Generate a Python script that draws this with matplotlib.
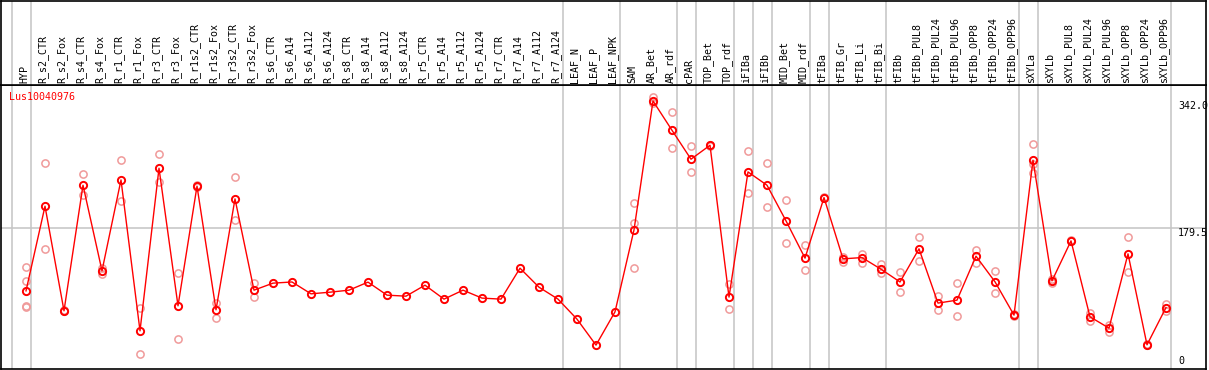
import matplotlib
matplotlib.use("Agg")
import matplotlib.pyplot as plt

# sample names, group means and replicate values
samples = ["HYP", "R_s2_CTR", "R_s2_Fox", "R_s4_CTR", "R_s4_Fox", "R_r1_CTR", "R_r1_Fox",
           "R_r3_CTR", "R_r3_Fox", "R_r1s2_CTR", "R_r1s2_Fox", "R_r3s2_CTR", "R_r3s2_Fox",
           "R_s6_CTR", "R_s6_A14", "R_s6_A112", "R_s6_A124", "R_s8_CTR", "R_s8_A14",
           "R_s8_A112", "R_s8_A124", "R_r5_CTR", "R_r5_A14", "R_r5_A112", "R_r5_A124",
           "R_r7_CTR", "R_r7_A14", "R_r7_A112", "R_r7_A124", "LEAF_N", "LEAF_P", "LEAF_NPK",
           "SAM", "AR_Bet", "AR_rdf", "cPAR", "TOP_Bet", "TOP_rdf", "iFIBa", "iFIBb",
           "MID_Bet", "MID_rdf", "tFIBa", "tFIB_Gr", "tFIB_Li", "tFIB_Bi", "tFIBb",
           "tFIBb_PUL8", "tFIBb_PUL24", "tFIBb_PUL96", "tFIBb_OPP8", "tFIBb_OPP24",
           "tFIBb_OPP96", "sXYLa", "sXYLb", "sXYLb_PUL8", "sXYLb_PUL24", "sXYLb_PUL96",
           "sXYLb_OPP8", "sXYLb_OPP24", "sXYLb_OPP96"]

means = [98.3, 206.9, 72.7, 233.8, 124.0, 240.6, 47.0, 255.6, 79.1, 232.6, 74.0, 216.3,
         99.2, 108.2, 109.7, 94.5, 96.6, 99.2, 109.5, 92.8, 91.5, 105.6, 87.7, 99.2, 89.0,
         87.7, 127.4, 103.0, 87.7, 62.0, 28.7, 71.4, 176.5, 341.9, 304.3, 267.2, 285.1,
         90.3, 250.9, 233.8, 188.1, 140.3, 218.0, 139.4, 141.0, 126.1, 109.7, 152.2, 82.6,
         86.4, 142.8, 109.9, 67.2, 265.9, 111.2, 162.4, 65.0, 50.5, 145.8, 29.1, 76.9]

replicates = [
    [128.7, 111.2, 78.2, 78.6], [262.4, 151.8], [72.0, 73.5], [248.3, 221.0],
    [127.4, 120.5], [266.3, 213.3], [76.1, 17.2], [273.6, 237.7], [121.4, 36.8],
    [233.5, 231.5], [82.6, 63.3], [244.1, 189.0], [108.6, 90.3],
    [], [], [], [], [], [], [], [], [], [], [], [], [], [], [], [], [], [], [],
    [211.2, 185.5, 127.4], [346.7, 339.0], [327.4, 281.3], [283.8, 250.5],
    [286.0, 284.0], [107.3, 74.9], [277.8, 223.6], [262.0, 205.6], [214.6, 159.5],
    [156.9, 124.9], [219.0, 217.0], [141.5, 135.1], [145.4, 133.8], [132.6, 121.0],
    [122.5, 96.9], [167.6, 136.4], [91.9, 73.6], [108.2, 65.9], [151.3, 133.8],
    [123.6, 95.8], [68.0, 66.4], [286.8, 261.0, 249.2], [108.2, 113.0], [163.0, 161.8],
    [70.1, 59.5], [55.1, 45.8], [167.6, 122.3], [29.5, 28.7], [81.3, 73.1],
]

# index of the last sample of each group (separator drawn just after it)
group_ends = [-1, 0, 28, 31, 34, 35, 37, 38, 39, 41, 42, 45, 52, 53, 60]

gene = "Lus10040976"
y_max, y_mid = 342.0, 179.5

RED = "#ff0000"
PINK = "#f09a9a"
GRID = "#c4c4c4"
FONT = "DejaVu Sans Mono"
FS = 7.2

W, H = 1209, 370
fig = plt.figure(figsize=(W / 100, H / 100), dpi=100)

x_lo, x_hi = -1.316, 62.105
ax = fig.add_axes([1 / W, 1.5 / H, 1205 / W, 283.5 / H])
hdr = fig.add_axes([1 / W, 285 / H, 1205 / W, 84.3 / H], sharex=ax)

for a in (ax, hdr):
    a.set_xlim(x_lo, x_hi)
    a.set_xticks([])
    a.set_yticks([])
    for s in a.spines.values():
        s.set_color("black")
        s.set_linewidth(1.2)
    for g in group_ends:
        a.axvline(g + 0.25, color=GRID, lw=1.1, zorder=0)

hdr.set_ylim(0, 1)
ax.set_ylim(-1.3, 362.4)
ax.axhline(y_mid, color=GRID, lw=1.1, zorder=0)

xs = list(range(len(samples)))

# column labels
for i, name in enumerate(samples):
    hdr.text(i - 0.11, 0.024, name, rotation=90, ha="center", va="bottom",
             fontsize=FS, family=FONT, color="black")

# replicate points
rx, ry = [], []
for i, reps in enumerate(replicates):
    for v in reps:
        rx.append(i)
        ry.append(v)
ax.plot(rx, ry, ls="none", marker="o", ms=5.2, mfc="none", mec=PINK, mew=1.1, zorder=2)

# mean profile
ax.plot(xs, means, color=RED, lw=1.0, marker="o", ms=5.2, mfc="none", mec=RED,
        mew=1.4, zorder=3)

ax.text(-0.88, 347.4, gene, color=RED, fontsize=FS, family=FONT, ha="left", va="center")

# value labels on the right
lx = 60.63
ax.text(lx, y_max, f"{y_max:.1f}", fontsize=FS, family=FONT, ha="left", va="top", clip_on=False)
ax.text(lx, y_mid, f"{y_mid:.1f}", fontsize=FS, family=FONT, ha="left", va="top", clip_on=False)
ax.text(lx, 1.5, "0", fontsize=FS, family=FONT, ha="left", va="bottom", clip_on=False)

fig.savefig("out.png", dpi=100, facecolor="white")
